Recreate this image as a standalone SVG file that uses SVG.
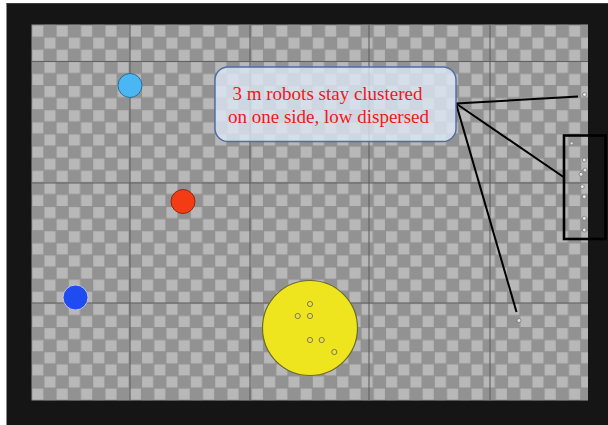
<svg xmlns="http://www.w3.org/2000/svg" width="608" height="425" viewBox="0 0 608 425">
  <defs>
    <pattern id="checker" x="31.7" y="25" width="24.4" height="24.2" patternUnits="userSpaceOnUse">
      <rect x="0" y="0" width="24.4" height="24.2" fill="#929292"/>
      <rect x="0.6" y="0.6" width="11" height="11" fill="#b8b8b8"/>
      <rect x="12.8" y="12.7" width="11" height="11" fill="#b8b8b8"/>
    </pattern>
  </defs>
  <style>
    .grid { stroke: #606060; stroke-width: 1.1; }
    .robot { fill: #e9e04a; stroke: #77703a; stroke-width: 0.9; }
    .srobot { fill: #e4e4e4; stroke: #7a7a7a; stroke-width: 0.8; }
    .conn { stroke: #000; stroke-width: 2; fill: none; }
    .label { font-family: "Liberation Serif", "Times New Roman", serif; font-size: 19px; fill: #f01818; text-anchor: middle; }
  </style>

  <rect x="0" y="0" width="608" height="425" fill="#ffffff"/>
  <rect x="6.5" y="3" width="601.5" height="422" fill="#151515"/>
  <line x1="6.5" y1="3.5" x2="608" y2="3.5" stroke="#3a3a3a" stroke-width="1"/>

  <g id="floor">
    <rect x="31.5" y="24.5" width="556.5" height="376" fill="url(#checker)"/>
    <line class="grid" x1="130" y1="24.5" x2="130" y2="400.5"/>
    <line class="grid" x1="250" y1="24.5" x2="250" y2="400.5"/>
    <line class="grid" x1="369" y1="24.5" x2="369" y2="400.5"/>
    <line class="grid" x1="490" y1="24.5" x2="490" y2="400.5"/>
    <line class="grid" x1="31.5" y1="61.5" x2="588" y2="61.5"/>
    <line class="grid" x1="31.5" y1="183" x2="588" y2="183"/>
    <line class="grid" x1="31.5" y1="303" x2="588" y2="303"/>
  </g>

  <g id="light-blue-marker">
    <circle cx="130" cy="85.5" r="12" fill="#4ab6f4" stroke="#2b6f99" stroke-width="1"/>
  </g>
  <g id="red-marker">
    <circle cx="183" cy="201.5" r="12" fill="#f43c14" stroke="#8a2a14" stroke-width="1"/>
  </g>
  <g id="blue-marker">
    <circle cx="75.5" cy="297.5" r="12.5" fill="#1f4cf0" stroke="#c6c6dc" stroke-width="1"/>
  </g>

  <g id="yellow-area">
    <circle cx="310" cy="328" r="47.5" fill="#efe51f" stroke="#6b6a2a" stroke-width="1.2"/>
    <circle class="robot" cx="310" cy="304" r="2.6"/>
    <circle class="robot" cx="297.7" cy="316" r="2.6"/>
    <circle class="robot" cx="310" cy="316" r="2.6"/>
    <circle class="robot" cx="310" cy="340" r="2.6"/>
    <circle class="robot" cx="321.7" cy="340" r="2.6"/>
    <circle class="robot" cx="334.3" cy="352" r="2.6"/>
  </g>

  <g id="stray-robots">
    <circle class="srobot" cx="584.5" cy="94.5" r="2"/>
    <circle class="srobot" cx="519" cy="320.5" r="2"/>
    <circle class="srobot" cx="571.7" cy="143.3" r="1.6"/>
    <circle class="srobot" cx="584.3" cy="160" r="2"/>
    <circle class="srobot" cx="585" cy="170" r="2"/>
    <circle class="srobot" cx="581" cy="174.3" r="2"/>
    <circle class="srobot" cx="582.3" cy="186.7" r="2"/>
    <circle class="srobot" cx="584.3" cy="196.7" r="2"/>
    <circle class="srobot" cx="584.3" cy="218.3" r="2"/>
    <circle class="srobot" cx="584.3" cy="230" r="2"/>
  </g>

  <g id="cluster-box">
    <rect x="564" y="135.5" width="41.5" height="103.5" fill="none" stroke="#000" stroke-width="2.6"/>
  </g>

  <g id="connectors">
    <line class="conn" x1="456" y1="103.5" x2="578" y2="96.5"/>
    <line class="conn" x1="456" y1="103.5" x2="563.5" y2="177"/>
    <line class="conn" x1="456" y1="103.5" x2="516.5" y2="312"/>
  </g>

  <g id="callout">
    <rect x="215" y="67" width="241" height="74.5" rx="13" ry="13" fill="#dde7f5" fill-opacity="0.8" stroke="#4d6ea6" stroke-width="1.4"/>
    <text class="label" x="327.5" y="100">3 m robots stay clustered</text>
    <text class="label" x="328.5" y="123">on one side, low dispersed</text>
  </g>
</svg>
